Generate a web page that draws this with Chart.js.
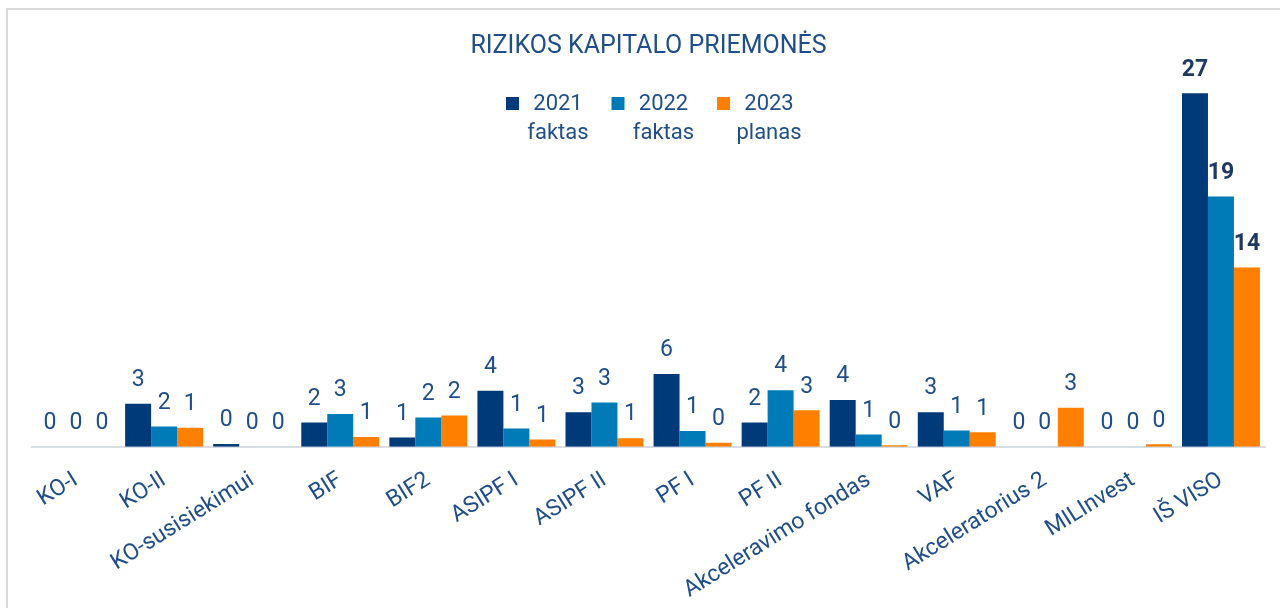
<!DOCTYPE html>
<html lang="lt">
<head>
<meta charset="utf-8">
<title>Rizikos kapitalo priemonės</title>
<script src="https://cdn.jsdelivr.net/npm/chart.js@4.4.1/dist/chart.umd.min.js"></script>
<style>
  html, body { margin: 0; padding: 0; background: #fff; }
  .wrap { position: relative; width: 1280px; height: 608px; overflow: hidden; }
  .frame {
    position: absolute; left: 6px; top: 8px; width: 1400px; height: 800px;
    border-top: 2px solid #d9d9d9; border-left: 2px solid #d9d9d9;
  }
  canvas { position: absolute; left: 0; top: 0; }
</style>
</head>
<body>
<div class="wrap">
  <div class="frame"></div>
  <canvas id="chart" width="1280" height="608"></canvas>
</div>
<script>
// duomenys
const categories = [
    'KO-I', 'KO-II', 'KO-susisiekimui', 'BIF', 'BIF2', 'ASIPF I', 'ASIPF II',
    'PF I', 'PF II', 'Akceleravimo fondas', 'VAF', 'Akceleratorius 2', 'MILInvest', 'IŠ VISO',
];
const seriesNames = [['2021', 'faktas'], ['2022', 'faktas'], ['2023', 'planas']];
const fact2021 = [0, 3.3, 0.2, 1.85, 0.7, 4.3, 2.65, 5.6, 1.85, 3.6, 2.65, 0, 0, 27.2];
const fact2022 = [0, 1.55, 0, 2.52, 2.25, 1.4, 3.4, 1.2, 4.35, 0.93, 1.25, 0, 0, 19.25];
const plan2023 = [0, 1.45, 0, 0.75, 2.4, 0.55, 0.65, 0.3, 2.8, 0.1, 1.1, 3.0, 0.18, 13.8];

const COLORS = ['#003a78', '#007bb8', '#ff7f00'];
const TEXT = '#1f4e8a';
const FONT = "Roboto, 'Noto Sans', sans-serif";

// reikšmės virš stulpelių
const valueLabels = {
    id: 'valueLabels',
    afterDatasetsDraw(chart) {
        const ctx = chart.ctx;
        const last = categories.length - 1;
        ctx.save();
        ctx.textAlign = 'center';
        ctx.textBaseline = 'bottom';
        chart.data.datasets.forEach((ds, di) => {
            const meta = chart.getDatasetMeta(di);
            meta.data.forEach((bar, i) => {
                const bold = i === last;
                ctx.font = (bold ? 'bold ' : '') + '23px ' + FONT;
                ctx.fillStyle = bold ? '#203864' : TEXT;
                ctx.fillText(String(Math.round(ds.data[i])), bar.x, bar.y - 12);
            });
        });
        ctx.restore();
    },
};

// legenda su dviem eilutėmis
const twoLineLegend = {
    id: 'twoLineLegend',
    afterDraw(chart) {
        const ctx = chart.ctx;
        const startX = 506, step = 105.5, top = 97;
        ctx.save();
        ctx.font = '22px ' + FONT;
        ctx.textAlign = 'center';
        ctx.textBaseline = 'middle';
        chart.data.datasets.forEach((ds, i) => {
            const x = startX + i * step;
            ctx.fillStyle = ds.backgroundColor;
            ctx.fillRect(x, top, 13, 13);
            ctx.fillStyle = TEXT;
            ctx.fillText(seriesNames[i][0], x + 52, top + 7);
            ctx.fillText(seriesNames[i][1], x + 52, top + 36);
        });
        ctx.restore();
    },
};

new Chart(document.getElementById('chart'), {
    type: 'bar',
    data: {
        labels: categories,
        datasets: [
            { label: seriesNames[0].join(' '), data: fact2021, backgroundColor: COLORS[0] },
            { label: seriesNames[1].join(' '), data: fact2022, backgroundColor: COLORS[1] },
            { label: seriesNames[2].join(' '), data: plan2023, backgroundColor: COLORS[2] },
        ],
    },
    options: {
        responsive: false,
        animation: false,
        layout: { padding: { left: 32, right: 15, top: 0, bottom: -8 } },
        datasets: {
            bar: { categoryPercentage: 0.885, barPercentage: 1.0 },
        },
        scales: {
            x: {
                grid: { display: false },
                border: { display: true, color: '#d9dde6', width: 2 },
                ticks: {
                    color: TEXT,
                    font: { family: FONT, size: 23 },
                    minRotation: 32,
                    maxRotation: 32,
                    padding: 12,
                    autoSkip: false,
                },
            },
            y: {
                display: false,
                min: 0,
                max: 30,
            },
        },
        plugins: {
            legend: { display: false },
            tooltip: { enabled: false },
            title: {
                display: true,
                text: 'RIZIKOS KAPITALO PRIEMONĖS',
                color: TEXT,
                fullSize: false,
                font: { family: FONT, size: 25, weight: 'normal' },
                padding: { top: 32, bottom: -5 },
            },
        },
    },
    plugins: [valueLabels, twoLineLegend],
});
</script>
</body>
</html>
